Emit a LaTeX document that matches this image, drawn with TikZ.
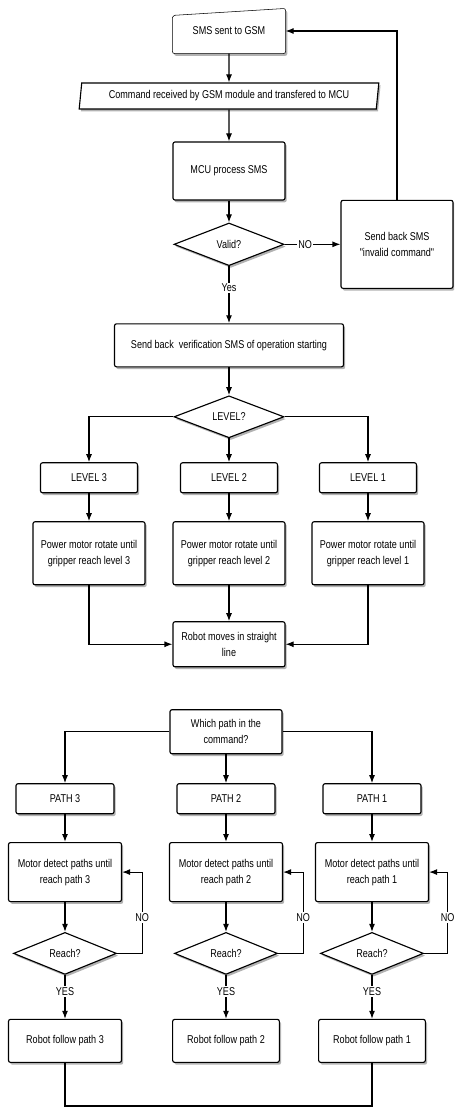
\documentclass[tikz,border=0pt]{standalone}
\usepackage{fontspec}
\newfontfamily\flowfont{Liberation Sans}[FakeStretch=0.8]
\usetikzlibrary{arrows.meta}
\usetikzlibrary{positioning,shapes,shadows,backgrounds}

\begin{document}
\begin{tikzpicture} [->,>={Latex[length=6pt,width=4.5pt]},x=0.75pt,y=-0.75pt,
    node distance=55pt,line width=0.85pt,
    every node/.style={font=\flowfont\fontsize{8.5}{12}\selectfont,align=center},
    shade/.style={drop shadow={shadow xshift=1.3pt,shadow yshift=-1.7pt,opacity=0.3,fill=black}},
    proc/.style={draw,rounded corners=1.5pt,fill=white,shade,inner sep=1pt,
      minimum width=84pt,minimum height=33pt},
    small/.style={proc,minimum width=72.75pt,minimum height=22.5pt},
    decision/.style={diamond,draw,fill=white,shade,aspect=2.5,inner sep=0pt,
      minimum width=82.5pt,minimum height=32pt},
    iobox/.style={trapezium,trapezium left angle=81,trapezium right angle=99,
      trapezium stretches=true,draw,fill=white,shade,inner sep=1pt,
      minimum width=225pt,minimum height=19.5pt},
    lbl/.style={fill=white,inner sep=1pt}]

  \useasboundingbox (0,0) rectangle (454,1109);
  \clip (0,0) rectangle (454,1109);

  % upper flow
  \node[minimum width=84pt,minimum height=33pt] (sms) at (229,31) {SMS sent to GSM};
  \node[iobox] (cmd) [below of=sms, node distance=48.75pt] {Command received by GSM module and transfered to MCU};
  \node[proc] (mcu) [below of=cmd, node distance=56.25pt, minimum height=43.5pt] {MCU process SMS};
  \node[decision] (valid) [below of=mcu, node distance=55pt] {Valid?};
  \node[proc] (back) [right of=valid, node distance=126pt, minimum height=66pt] {Send back SMS\\"invalid command"};
  \node[proc] (verif) [below of=valid, node distance=75.75pt, minimum width=171.75pt, minimum height=32.25pt] {Send back\ \ verification SMS of operation starting};
  \node[decision] (level) [below of=verif, node distance=53.6pt, minimum height=31.5pt] {LEVEL?};

  \node[small] (lv2) [below of=level, node distance=45.75pt] {LEVEL 2};
  \node[small] (lv3) [left of=lv2, node distance=105pt] {LEVEL 3};
  \node[small] (lv1) [right of=lv2, node distance=104.25pt] {LEVEL 1};
  \node[proc] (pm3) [below of=lv3, node distance=56.6pt, minimum height=47.25pt] {Power motor rotate until\\gripper reach level 3};
  \node[proc] (pm2) [below of=lv2, node distance=56.6pt, minimum height=47.25pt] {Power motor rotate until\\gripper reach level 2};
  \node[proc] (pm1) [below of=lv1, node distance=56.6pt, minimum height=47.25pt] {Power motor rotate until\\gripper reach level 1};
  \node[proc] (robot) [below of=pm2, node distance=68.25pt, minimum height=33.75pt] {Robot moves in straight\\line};

  % lower flow
  \node[proc] (which) [below of=robot, node distance=65.6pt, xshift=-2.25pt] {Which path in the\\command?};
  \node[small] (pa2) [below of=which, node distance=50.25pt, minimum width=73.5pt] {PATH 2};
  \node[small] (pa3) [left of=pa2, node distance=120.75pt, minimum width=73.5pt] {PATH 3};
  \node[small] (pa1) [right of=pa2, node distance=109.5pt, minimum width=73.5pt] {PATH 1};
  \node[proc] (md3) [below of=pa3, minimum width=84.75pt, minimum height=44.25pt] {Motor detect paths until\\reach path 3};
  \node[proc] (md2) [below of=pa2, minimum width=84.75pt, minimum height=44.25pt] {Motor detect paths until\\reach path 2};
  \node[proc] (md1) [below of=pa1, minimum width=84.75pt, minimum height=44.25pt] {Motor detect paths until\\reach path 1};
  \node[decision] (re3) [below of=md3, node distance=61pt, minimum width=77.25pt, minimum height=31.5pt] {Reach?};
  \node[decision] (re2) [below of=md2, node distance=61pt, minimum width=77.25pt, minimum height=31.5pt] {Reach?};
  \node[decision] (re1) [below of=md1, node distance=61pt, minimum width=77.25pt, minimum height=31.5pt] {Reach?};
  \node[proc] (rf3) [below of=re3, node distance=65.6pt, minimum width=84.75pt, minimum height=32.25pt] {Robot follow path 3};
  \node[proc] (rf2) [below of=re2, node distance=65.6pt, minimum width=80pt, minimum height=32.25pt] {Robot follow path 2};
  \node[proc] (rf1) [below of=re1, node distance=65.6pt, minimum width=80pt, minimum height=32.25pt] {Robot follow path 1};

  \coordinate (k3) at ([xshift=15pt]md3.east);
  \coordinate (k2) at ([xshift=15pt]md2.east);
  \coordinate (k1) at ([xshift=14pt]md1.east);

  % manual input outline
  \begin{scope}[on background layer]
    \draw[-,rounded corners=1.5pt,fill=white,shade] (sms.south west) -- ([yshift=-5.25pt]sms.north west)
      -- (sms.north east) -- (sms.south east) -- cycle;
  \end{scope}

  \path[every node/.style={lbl,font=\flowfont\fontsize{8.5}{12}\selectfont}]
    (sms) edge (cmd)
    (cmd) edge (mcu)
    (mcu) edge (valid)
    (valid) edge node [pos=0.37] {NO} (back)
    (valid) edge node [pos=0.38] {Yes} (verif)
    (verif) edge (level)
    (level) edge (lv2)
    (lv3) edge (pm3)
    (lv2) edge (pm2)
    (lv1) edge (pm1)
    (pm2) edge (robot)
    (which) edge (pa2)
    (pa3) edge (md3)
    (pa2) edge (md2)
    (pa1) edge (md1)
    (md3) edge (re3)
    (md2) edge (re2)
    (md1) edge (re1)
    (re3) edge node [pos=0.38] {YES} (rf3)
    (re2) edge node [pos=0.38] {YES} (rf2)
    (re1) edge node [pos=0.38] {YES} (rf1);

  \draw (back.north) |- (sms.east);
  \draw (level.west) -| (lv3.north);
  \draw (level.east) -| (lv1.north);
  \draw (pm3.south) |- (robot.west);
  \draw (pm1.south) |- (robot.east);
  \draw (which.west) -| (pa3.north);
  \draw (which.east) -| (pa1.north);
  \draw (re3.east) -| node[lbl,pos=0.72] {NO} (k3) -- (md3.east);
  \draw (re2.east) -| node[lbl,pos=0.72] {NO} (k2) -- (md2.east);
  \draw (re1.east) -| node[lbl,pos=0.72] {NO} (k1) -- (md1.east);
  \draw[-] (rf3.south) -- ++(0,43) -| (rf1.south);

\end{tikzpicture}
\end{document}
